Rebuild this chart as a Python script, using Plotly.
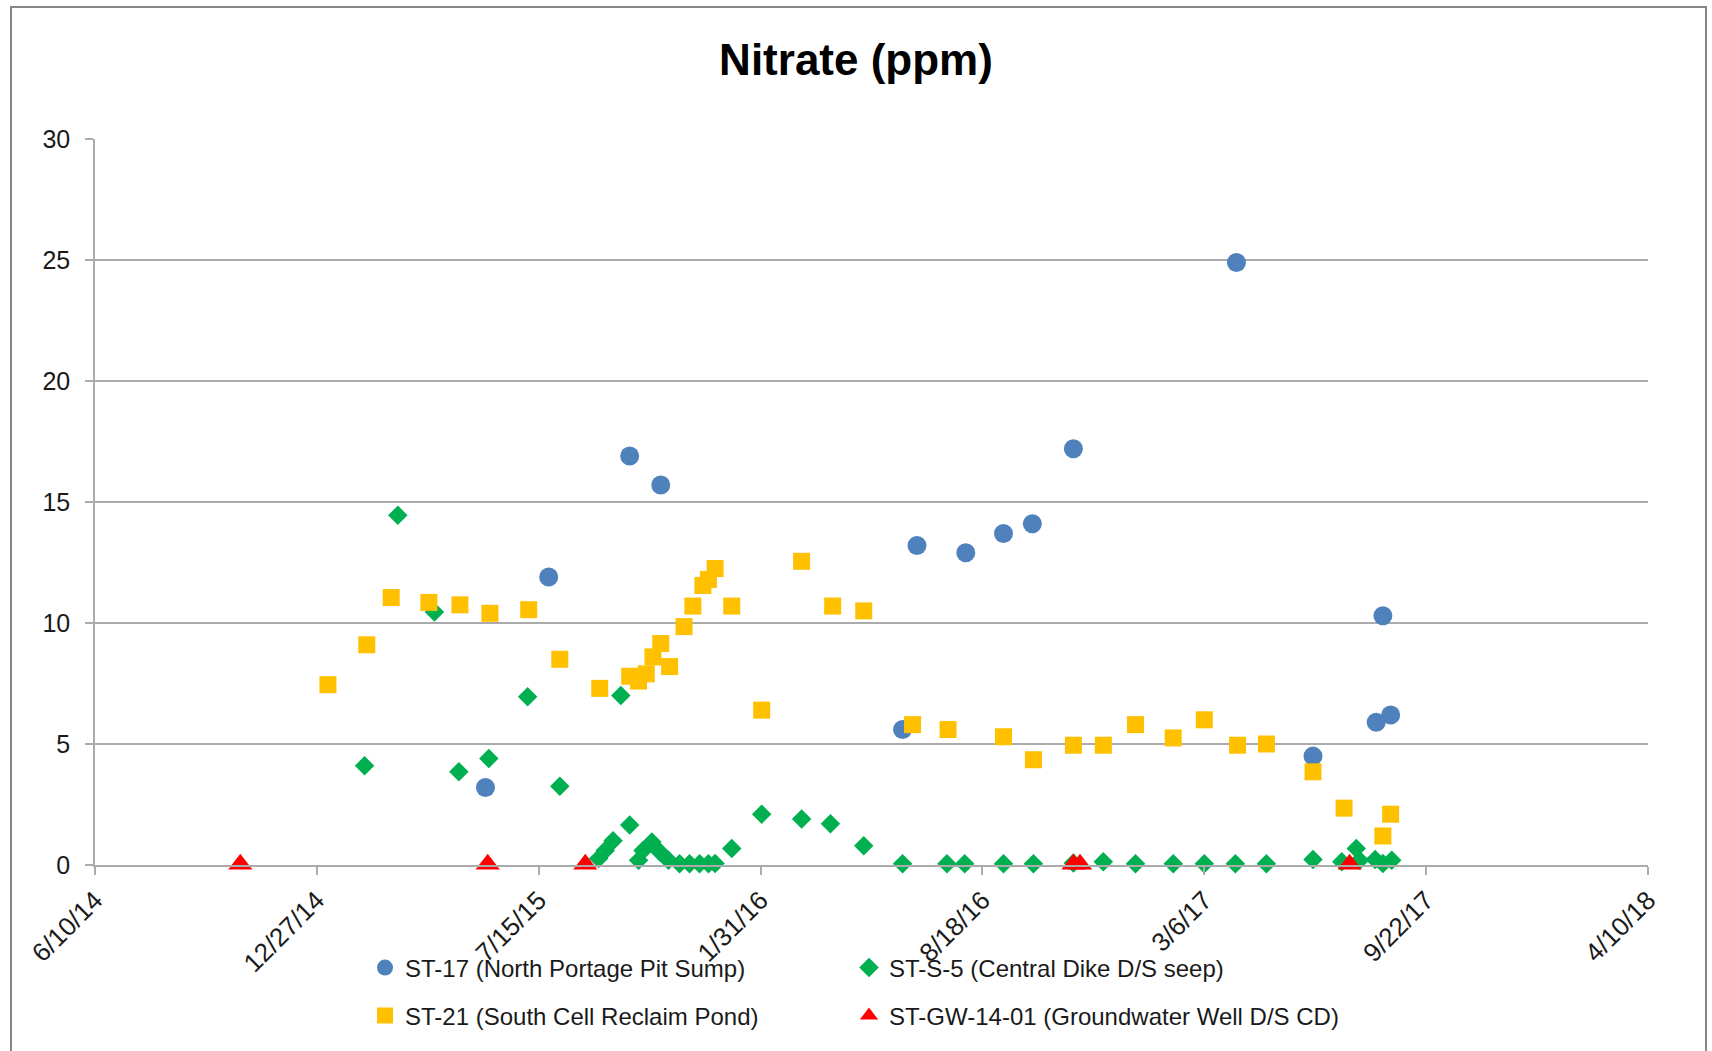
import plotly.graph_objects as go

# ST-17 (North Portage Pit Sump)
st17_dates = ["2015-05-28", "2015-07-24", "2015-10-05", "2015-11-02", "2016-06-07",
              "2016-06-20", "2016-08-03", "2016-09-06", "2016-10-02", "2016-11-08",
              "2017-04-04", "2017-06-12", "2017-08-08", "2017-08-14", "2017-08-21"]
st17_vals = [3.2, 11.9, 16.9, 15.7, 5.6, 13.2, 12.9, 13.7, 14.1, 17.2,
             24.9, 4.5, 5.9, 10.3, 6.2]

# ST-S-5 (Central Dike D/S seep)
sts5_dates = ["2015-02-08", "2015-03-10", "2015-04-12", "2015-05-04", "2015-05-31",
              "2015-07-05", "2015-08-03", "2015-09-07", "2015-09-13", "2015-09-20",
              "2015-09-27", "2015-10-05", "2015-10-13", "2015-10-17", "2015-10-25",
              "2015-11-01", "2015-11-09", "2015-11-19", "2015-11-28", "2015-12-07",
              "2015-12-15", "2015-12-21", "2016-01-05", "2016-02-01", "2016-03-08",
              "2016-04-03", "2016-05-03", "2016-06-07", "2016-07-17", "2016-08-02",
              "2016-09-06", "2016-10-03", "2016-11-08", "2016-12-05", "2017-01-03",
              "2017-02-06", "2017-03-06", "2017-04-03", "2017-05-01", "2017-06-12",
              "2017-07-08", "2017-07-21", "2017-07-24", "2017-08-07", "2017-08-14",
              "2017-08-22"]
sts5_vals = [4.1, 14.45, 10.45, 3.85, 4.4, 6.95, 3.25, 0.27, 0.6, 1.0,
             7.0, 1.65, 0.2, 0.6, 0.95, 0.55, 0.2, 0.05, 0.05, 0.05,
             0.05, 0.06, 0.68, 2.1, 1.9, 1.7, 0.8, 0.05, 0.05, 0.05,
             0.05, 0.05, 0.08, 0.13, 0.05, 0.05, 0.05, 0.05, 0.05, 0.23,
             0.13, 0.68, 0.2, 0.23, 0.06, 0.2]

# ST-21 (South Cell Reclaim Pond)
st21_dates = ["2015-01-06", "2015-02-10", "2015-03-04", "2015-04-07", "2015-05-05",
              "2015-06-01", "2015-07-06", "2015-08-03", "2015-09-08", "2015-10-05",
              "2015-10-13", "2015-10-20", "2015-10-26", "2015-11-02", "2015-11-10",
              "2015-11-23", "2015-12-01", "2015-12-10", "2015-12-15", "2015-12-21",
              "2016-01-05", "2016-02-01", "2016-03-08", "2016-04-05", "2016-05-03",
              "2016-06-16", "2016-07-18", "2016-09-06", "2016-10-03", "2016-11-08",
              "2016-12-05", "2017-01-03", "2017-02-06", "2017-03-06", "2017-04-05",
              "2017-05-01", "2017-06-12", "2017-07-10", "2017-08-14", "2017-08-21"]
st21_vals = [7.45, 9.1, 11.05, 10.85, 10.75, 10.4, 10.55, 8.5, 7.3, 7.8,
             7.6, 7.9, 8.6, 9.15, 8.2, 9.85, 10.7, 11.55, 11.8, 12.25,
             10.7, 6.4, 12.55, 10.7, 10.5, 5.8, 5.6, 5.3, 4.35, 4.95,
             4.95, 5.8, 5.25, 6.0, 4.95, 5.0, 3.85, 2.35, 1.2, 2.1]

# ST-GW-14-01 (Groundwater Well D/S CD)
gw_dates = ["2014-10-19", "2015-05-30", "2015-08-26", "2016-11-08", "2016-11-14",
            "2017-07-15"]
gw_vals = [0.03, 0.03, 0.03, 0.03, 0.03, 0.03]

x_start = "2014-06-10"
x_end = "2018-04-10"
tick_step_days = 200
y_ticks = [0, 5, 10, 15, 20, 25, 30]

FONT = "Liberation Sans, Arial, sans-serif"
GRID = "#ABABAB"

W, H = 1712, 1051
ML, MR, MT, MB = 95, 64, 139, 186
plot_w = W - ML - MR
plot_h = H - MT - MB


def px_to_paper_x(px):
    return (px - ML) / plot_w


def px_to_paper_y(py):
    return (H - MB - py) / plot_h


series = [
    ("ST-17 (North Portage Pit Sump)", st17_dates, st17_vals, "circle", 19, "#4F81BD", "legend"),
    ("ST-S-5 (Central Dike D/S seep)", sts5_dates, sts5_vals, "diamond", 15, "#00B050", "legend2"),
    ("ST-21 (South Cell Reclaim Pond)", st21_dates, st21_vals, "square", 17, "#FFC000", "legend3"),
    ("ST-GW-14-01 (Groundwater Well D/S CD)", gw_dates, gw_vals, "triangle-up", 21, "#FF0000", "legend4"),
]

fig = go.Figure()
for name, xs, ys, sym, size, color, leg in series:
    fig.add_trace(go.Scatter(
        x=xs, y=ys, mode="markers", name=name, legend=leg, showlegend=True,
        marker=dict(symbol=sym, size=size, color=color, line=dict(width=0)),
        cliponaxis=False,
    ))

legend_common = dict(
    orientation="h", xanchor="left", yanchor="middle",
    font=dict(family=FONT, size=24, color="#1a1a1a"),
    bgcolor="rgba(0,0,0,0)", itemclick=False,
)
row1, row2 = px_to_paper_y(968), px_to_paper_y(1016)
col1, col2 = px_to_paper_x(365), px_to_paper_x(849)

fig.update_layout(
    width=W, height=H,
    showlegend=True,
    margin=dict(l=ML, r=MR, t=MT, b=MB),
    paper_bgcolor="white", plot_bgcolor="white",
    title=dict(text="<b>Nitrate (ppm)</b>", x=0.5, xref="container", xanchor="center",
               y=1 - 60 / H, yref="container", yanchor="middle",
               font=dict(family=FONT, size=44, color="#000000")),
    legend=dict(x=col1, y=row1, **legend_common),
    legend2=dict(x=col2, y=row1, **legend_common),
    legend3=dict(x=col1, y=row2, **legend_common),
    legend4=dict(x=col2, y=row2, **legend_common),
    xaxis=dict(
        type="date", range=[x_start, x_end],
        tick0=x_start, dtick=tick_step_days * 86400000,
        tickformat="%-m/%-d/%y", tickangle=-45,
        showgrid=False, zeroline=False,
        showline=True, linecolor=GRID, linewidth=1.5,
        ticks="outside", ticklen=8, tickcolor=GRID, tickwidth=1.5,
        tickfont=dict(family=FONT, size=26, color="#1a1a1a"),
    ),
    yaxis=dict(
        range=[0, 30], tickvals=y_ticks,
        showgrid=True, gridcolor=GRID, gridwidth=1.5, zeroline=False,
        showline=True, linecolor=GRID, linewidth=1.5,
        ticks="outside", ticklen=8, tickcolor=GRID, tickwidth=1.5,
        tickfont=dict(family=FONT, size=25, color="#1a1a1a"),
        ticklabelstandoff=10,
    ),
    shapes=[dict(
        type="rect", xref="paper", yref="paper", layer="below",
        x0=px_to_paper_x(11), x1=px_to_paper_x(1706),
        y0=px_to_paper_y(1060), y1=px_to_paper_y(7),
        line=dict(color="#868686", width=2), fillcolor="rgba(0,0,0,0)",
    )],
)

fig.write_html("out.html")
